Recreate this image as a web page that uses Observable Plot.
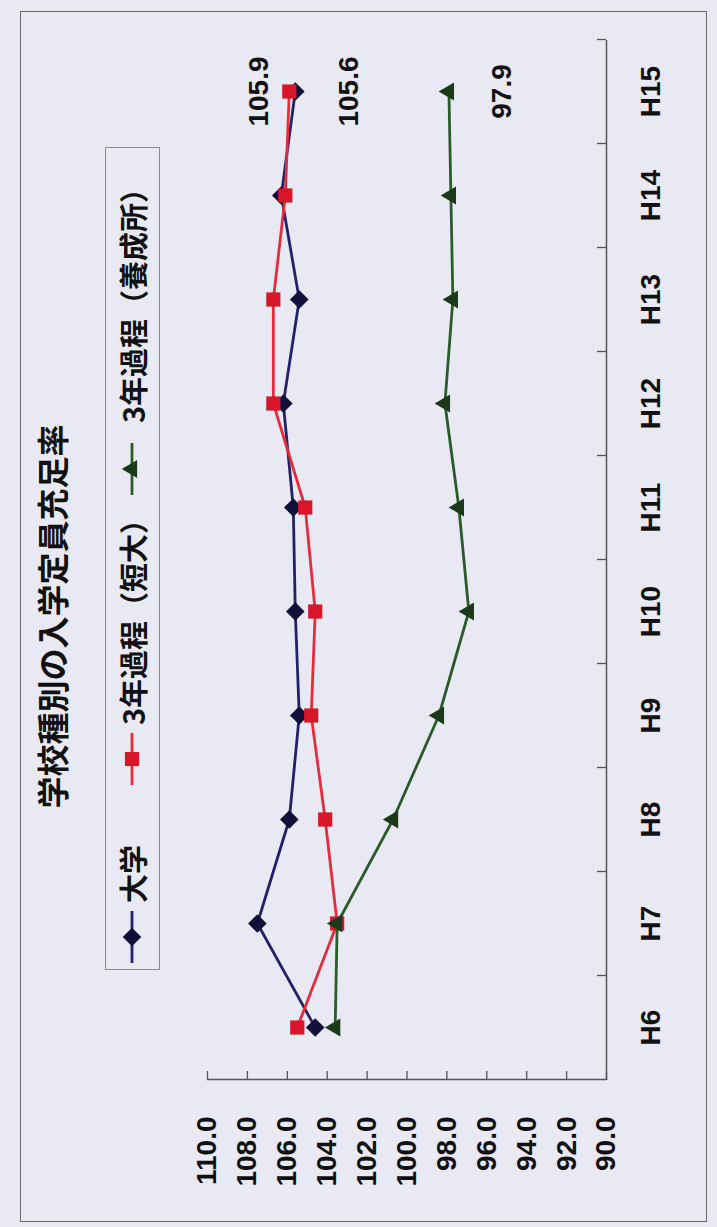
<!DOCTYPE html>
<html><head><meta charset="utf-8">
<script src="https://cdn.jsdelivr.net/npm/d3@7"></script>
<script src="https://cdn.jsdelivr.net/npm/@observablehq/plot@0.6"></script>
<style>
html,body{margin:0;padding:0;background:#e9e9f3;width:717px;height:1227px;overflow:hidden}
#rot{position:absolute;left:0;top:0;width:1227px;height:717px;transform-origin:0 0;transform:translate(0px,1227px) rotate(-90deg);background:#e9e9f3}
#frame{position:absolute;left:5px;top:20px;width:1211px;height:687px;border:1.5px solid #6a6a6a;box-sizing:border-box}
#chart{position:absolute;left:0;top:0}
#title{position:absolute;left:5px;width:1211px;top:30px;text-align:center;font:bold 32px "Noto Sans CJK JP";color:#111;line-height:42px}
#legend{position:absolute;left:257px;top:105px;width:823px;height:55px;border:1.5px solid #8a8a8a;box-sizing:border-box}
.item{position:absolute;top:0;height:52px;display:flex;align-items:center}
.item span{font:bold 29px "Noto Sans CJK JP";color:#111;white-space:nowrap}
</style></head>
<body>
<div id="rot">
  <div id="frame"></div>
  <div id="chart"></div>
  <div id="title"></div>
  <div id="legend"></div>
</div>
<script>
// ---- data ----
const title = "学校種別の入学定員充足率";
const categories = ["H6","H7","H8","H9","H10","H11","H12","H13","H14","H15"];
const seriesNames = ["大学","3年過程（短大）","3年過程（養成所）"];
const univ     = [104.6, 107.5, 105.9, 105.4, 105.6, 105.7, 106.2, 105.4, 106.3, 105.6];
const junior   = [105.5, 103.5, 104.1, 104.8, 104.6, 105.1, 106.7, 106.7, 106.1, 105.9];
const training = [103.6, 103.5, 100.7,  98.4,  96.9,  97.4,  98.1,  97.7,  97.8,  97.9];
const valueTicks = [90, 92, 94, 96, 98, 100, 102, 104, 106, 108, 110];

// ---- styles ----
const seriesValues = [univ, junior, training];
const lineColors = ["#22226a", "#e32c3e", "#2b5a2b"];
const markColors = ["#10103a", "#d8162a", "#1a3a1a"];
const symbols = ["diamond2", "square", "triangle"];
const radii = [8.4, 8.0, 6.6];
const labelDy = [54, -30, 53];

const n = categories.length;
const boundaries = d3.range(n + 1).map(i => i - 0.5);
const W = 1227, H = 717;
const mL = 147, mR = 40, mT = 207, mB = 111;
const plotW = W - mL - mR, plotH = H - mT - mB;

const marks = [];
seriesNames.forEach((name, s) => {
  const rows = seriesValues[s].map((v, i) => ({series: name, idx: i, cat: categories[i], value: v}));
  marks.push(Plot.line(rows, {x: "idx", y: "value", stroke: lineColors[s], strokeWidth: 2.8}));
  marks.push(Plot.dot(rows, {x: "idx", y: "value", symbol: () => symbols[s], r: radii[s], fill: markColors[s], stroke: "none"}));
  marks.push(Plot.text([rows[n - 1]], {x: "idx", y: "value", text: d => d.value.toFixed(1), dy: labelDy[s], fill: "#111"}));
});

const plot = Plot.plot({
  width: W, height: H,
  marginLeft: mL, marginRight: mR, marginTop: mT, marginBottom: mB,
  x: {type: "linear", domain: [-0.5, n - 0.5]},
  y: {type: "linear", domain: [90, 110]},
  symbol: {type: "identity"},
  style: {background: "transparent", fontFamily: "'Liberation Sans', Arial, sans-serif", fontSize: "28px", fontWeight: "bold", color: "#111"},
  marks: [
    Plot.ruleY([90], {stroke: "#555", strokeWidth: 1.5}),
    Plot.ruleX([-0.5], {stroke: "#555", strokeWidth: 1.5}),
    Plot.tickX(boundaries.slice(1), {x: d => d, insetTop: plotH - 9, stroke: "#555", strokeWidth: 1.3}),
    Plot.tickY(valueTicks, {y: d => d, insetRight: plotW - 9, stroke: "#555", strokeWidth: 1.3}),
    Plot.axisY({ticks: valueTicks, tickFormat: d => d.toFixed(1), tickSize: 0, tickPadding: 37, label: null, fill: "#111"}),
    Plot.axisX({ticks: d3.range(n), tickFormat: i => categories[i], tickSize: 0, tickPadding: 34, label: null, fill: "#111"}),
    ...marks
  ]
});
document.getElementById("chart").appendChild(plot);
document.getElementById("title").textContent = title;

// ---- legend ----
const legend = document.getElementById("legend");
const itemLeft = [4, 182, 472];
const textGap = [6, 6, 18];
seriesNames.forEach((name, s) => {
  const item = document.createElement("div");
  item.className = "item";
  item.style.left = itemLeft[s] + "px";
  const svg = d3.create("svg").attr("width", 56).attr("height", 30);
  svg.append("line").attr("x1", 2).attr("x2", 54).attr("y1", 15).attr("y2", 15)
     .attr("stroke", lineColors[s]).attr("stroke-width", 2.8);
  const sym = {diamond2: d3.symbolDiamond2, square: d3.symbolSquare, triangle: d3.symbolTriangle}[symbols[s]];
  svg.append("path").attr("transform", "translate(28,15)")
     .attr("d", d3.symbol(sym, Math.PI * radii[s] * radii[s])()).attr("fill", markColors[s]);
  item.appendChild(svg.node());
  const span = document.createElement("span");
  span.style.marginLeft = textGap[s] + "px";
  span.textContent = name;
  item.appendChild(span);
  legend.appendChild(item);
});
</script>
</body></html>
